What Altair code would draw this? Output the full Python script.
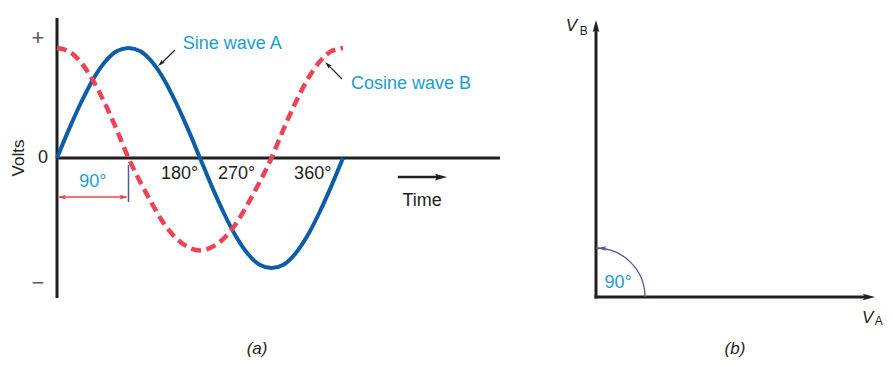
import altair as alt
import pandas as pd

# ---------------- values ----------------
degrees = [0, 15, 30, 45, 60, 75, 90, 105, 120, 135, 150, 165, 180,
           195, 210, 225, 240, 255, 270, 285, 300, 315, 330, 345, 360]
sine_a = [0.0, 0.26, 0.5, 0.71, 0.87, 0.97, 1.0, 0.97, 0.87, 0.71, 0.5, 0.26, 0.0,
          -0.26, -0.5, -0.71, -0.87, -0.97, -1.0, -0.97, -0.87, -0.71, -0.5, -0.26, 0.0]
cosine_b = [1.0, 0.97, 0.87, 0.71, 0.5, 0.26, 0.0, -0.22, -0.42, -0.6, -0.73, -0.81, -0.84,
            -0.81, -0.73, -0.6, -0.42, -0.22, 0.0, 0.26, 0.5, 0.71, 0.87, 0.97, 1.0]
degree_ticks = ["180°", "270°", "360°"]
phase_label = "90°"
series_names = ["Sine wave A", "Cosine wave B"]
phasor_names = ["V", "B", "V", "A"]

# ---------------- styles ----------------
FONT = "Liberation Sans"
BLACK = "#231f20"
BLUE = "#0c5ea8"
RED = "#ec4452"
CYAN = "#1b9dd1"
PURPLE = "#5a52a3"
HEAD = "M0,0L-2,-0.55L-1.6,0L-2,0.55Z"   # arrowhead, tip at origin, pointing right

# panel (a): degrees / volts ; panel (b): unit phasor plane
XA = alt.Scale(domain=[0, 360], range=[49, 335], nice=False, zero=False)
YA = alt.Scale(domain=[-1, 1], range=[260, 40], nice=False, zero=False)
XB = alt.Scale(domain=[0, 1], range=[588, 867], nice=False, zero=False)
YB = alt.Scale(domain=[0, 1], range=[289, 12], nice=False, zero=False)


def enc(xs, ys, rule=False):
    e = dict(x=alt.X("x:Q", scale=xs, axis=None), y=alt.Y("y:Q", scale=ys, axis=None))
    if rule:
        e.update(x2="x2:Q", y2="y2:Q")
    return e


def rules(df, xs, ys, color, width, cap="butt"):
    return alt.Chart(df).mark_rule(color=color, strokeWidth=width, strokeCap=cap).encode(**enc(xs, ys, True))


def heads(df, xs, ys, color, size):
    return alt.Chart(df).mark_point(shape=HEAD, filled=True, size=size, color=color,
                                    opacity=1, strokeWidth=0).encode(
        **enc(xs, ys), angle=alt.Angle("a:Q", scale=None))


def texts(df, xs, ys, color, size=18, **kw):
    return alt.Chart(df).mark_text(font=FONT, fontSize=size, color=color, baseline="middle", **kw).encode(
        **enc(xs, ys), text="t:N")


# ---------------- panel (a) ----------------
waves = pd.DataFrame({"x": degrees, "sine": sine_a, "cosine": cosine_b})

axes_a = rules(pd.DataFrame({"x": [0, 0], "y": [-1.273, 0], "x2": [0, 557.6], "y2": [1.273, 0]}),
               XA, YA, BLACK, 3)

sine_line = alt.Chart(waves).mark_line(color=BLUE, strokeWidth=4, interpolate="monotone").encode(
    x=alt.X("x:Q", scale=XA, axis=None), y=alt.Y("sine:Q", scale=YA, axis=None))
cos_line = alt.Chart(waves).mark_line(color=RED, strokeWidth=4.5, strokeDash=[10, 5.5],
                                      interpolate="monotone").encode(
    x=alt.X("x:Q", scale=XA, axis=None), y=alt.Y("cosine:Q", scale=YA, axis=None))

thin_a = rules(pd.DataFrame({"x": [148.5, 358.8], "y": [0.982, 0.718],
                             "x2": [130, 340], "y2": [0.85, 0.853]}),
               XA, YA, BLACK, 1.2)
time_shaft = rules(pd.DataFrame({"x": [429], "y": [-0.173], "x2": [482], "y2": [-0.173]}),
                   XA, YA, BLACK, 2.5)
red_shaft = rules(pd.DataFrame({"x": [3], "y": [-0.355], "x2": [87], "y2": [-0.355]}), XA, YA, RED, 1.6)
tick90 = rules(pd.DataFrame({"x": [90], "y": [-0.064], "x2": [90], "y2": [-0.4]}), XA, YA, PURPLE, 1.5)

heads_black_small = heads(pd.DataFrame({"x": [127.1, 337.4], "y": [0.836, 0.873], "a": [136.7, 225]}),
                          XA, YA, BLACK, 56)
heads_time = heads(pd.DataFrame({"x": [491], "y": [-0.173], "a": [0]}), XA, YA, BLACK, 150)
heads_red = heads(pd.DataFrame({"x": [0.6, 89.4], "y": [-0.355, -0.355], "a": [180, 0]}), XA, YA, RED, 72)

labels_a = texts(pd.DataFrame({
    "x": [154.2, 226, 321.9, -17.6, 459.5],
    "y": [-0.145, -0.145, -0.145, 0, -0.391],
    "t": degree_ticks + ["0", "Time"]}), XA, YA, BLACK, align="center")
signs = texts(pd.DataFrame({"x": [-23.9, -23.9], "y": [1.09, -1.136], "t": ["+", "−"]}),
              XA, YA, "#5a5a5a", 22, align="center", fontWeight=300)
volts = texts(pd.DataFrame({"x": [-47.5], "y": [0], "t": ["Volts"]}), XA, YA, BLACK, 17,
              align="center", angle=270)
cap_a = texts(pd.DataFrame({"x": [251.8], "y": [-1.736], "t": ["(a)"]}), XA, YA, BLACK, 17,
              align="center", fontStyle="italic")
names = texts(pd.DataFrame({"x": [158.2, 370], "y": [1.036, 0.673], "t": series_names}),
              XA, YA, CYAN, align="left")
ninety_a = texts(pd.DataFrame({"x": [45], "y": [-0.218], "t": [phase_label]}), XA, YA, CYAN, align="center")

# ---------------- panel (b) ----------------
axes_b = rules(pd.DataFrame({"x": [0, 0], "y": [0, 0], "x2": [0, 0.965], "y2": [0.96, 0]}),
               XB, YB, BLACK, 3, cap="square")
heads_b = heads(pd.DataFrame({"x": [0, 1], "y": [1, 0], "a": [270, 0]}), XB, YB, BLACK, 150)
arc = alt.Chart(pd.DataFrame({"x": [0], "y": [0]})).mark_arc(
    theta=0, theta2=1.5708, radius=49, radius2=49, filled=False, color=PURPLE, strokeWidth=1.3
).encode(**enc(XB, YB))
arc_head = heads(pd.DataFrame({"x": [0.008], "y": [0.177], "a": [184]}), XB, YB, PURPLE, 64)
ninety_b = texts(pd.DataFrame({"x": [0.079], "y": [0.0505], "t": [phase_label]}), XB, YB, CYAN, align="center")
v_big = texts(pd.DataFrame({"x": [-0.088, 0.974], "y": [0.98, -0.0758], "t": [phasor_names[0], phasor_names[2]]}),
              XB, YB, BLACK, 17, align="center", fontStyle="italic")
v_sub = texts(pd.DataFrame({"x": [-0.044, 1.013], "y": [0.962, -0.088], "t": [phasor_names[1], phasor_names[3]]}),
              XB, YB, BLACK, 12, align="center")
cap_b = texts(pd.DataFrame({"x": [0.498], "y": [-0.188], "t": ["(b)"]}), XB, YB, BLACK, 17,
              align="center", fontStyle="italic")

chart = alt.layer(
    axes_a, sine_line, cos_line, thin_a, time_shaft, red_shaft, tick90,
    heads_black_small, heads_time, heads_red,
    labels_a, signs, volts, cap_a, names, ninety_a,
    axes_b, heads_b, arc, arc_head, ninety_b, v_big, v_sub, cap_b,
).resolve_scale(x="independent", y="independent").properties(
    width=877, height=351, padding=0,
    autosize=alt.AutoSizeParams(type="none"),
).configure_view(strokeWidth=0)

chart.save("out.html", embed_options={"renderer": "svg", "actions": False})
